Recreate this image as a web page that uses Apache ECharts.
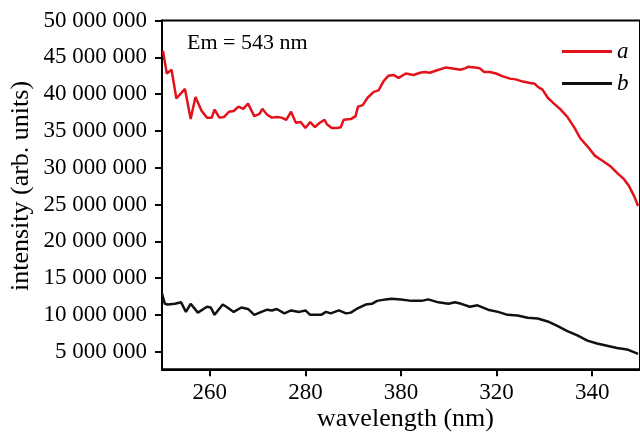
<!DOCTYPE html>
<html>
<head>
<meta charset="utf-8">
<script src="https://cdn.jsdelivr.net/npm/echarts@6/dist/echarts.min.js"></script>
<style>html,body{margin:0;padding:0;background:#fff}#chart{width:640px;height:432px}</style>
</head>
<body>
<div id="chart"></div>
<script>
// Curve a (red)
var aWavelength = [250.2,251,252,253,254.8,256,257,258.3,259.4,260.4,261,262,263,264,265,266,267,268,269.3,270.4,271,272,273,274,275,276,277,278,279,280,281,282,283,284,284.5,285.5,286.6,287.4,288,289.5,290.5,291,292,293,294.3,295.3,296.4,297.4,298.4,299.5,301,302.6,304,305,306,307.4,309.3,310.5,312.4,313.4,314,315.5,316.5,317.4,318.6,319.9,321.3,322.8,324,325.5,327,328,328.6,329.6,330.7,332,333.4,334.8,336.3,337.5,339,340.6,342,343.8,345.2,346.7,347.7,348.8,349.6];
var aIntensity = [45900000,42800000,43300000,39400000,40700000,36600000,39600000,37700000,36800000,36800000,37900000,36800000,36900000,37600000,37700000,38300000,38000000,38700000,37000000,37300000,38000000,37200000,36800000,36900000,36800000,36500000,37600000,36100000,36200000,35400000,36200000,35500000,36100000,36500000,35900000,35400000,35400000,35500000,36500000,36600000,37000000,38300000,38500000,39500000,40300000,40500000,41800000,42500000,42600000,42200000,42800000,42600000,42900000,43000000,42900000,43200000,43600000,43500000,43300000,43500000,43700000,43600000,43500000,43000000,43000000,42800000,42400000,42100000,42000000,41700000,41500000,41400000,41000000,40600000,39500000,38700000,37900000,36900000,35400000,34000000,32900000,31600000,31000000,30200000,29300000,28400000,27500000,26100000,24800000];
// Curve b (black)
var bWavelength = [250,250.6,251.2,252.7,254,255,256,257.5,259.4,260.2,261,262.7,263.7,265,266.6,268,269.3,270.8,272,273,274,275.6,277,278.7,280,281,283.3,284.3,285.3,287,288.5,289.5,290.7,292.6,293.9,295,296.8,298,300,302.2,304.3,305.7,307.8,309.9,311.3,312.6,314.4,316,318.2,320.3,322.3,324.4,326.5,328.6,330.7,332.7,334.8,336.9,339,341,343.1,345.2,347.3,349.6];
var bIntensity = [12900000,11500000,11400000,11500000,11700000,10400000,11500000,10300000,11100000,11000000,10000000,11400000,11000000,10400000,11000000,10800000,10000000,10400000,10700000,10600000,10800000,10200000,10600000,10400000,10600000,10000000,10000000,10400000,10200000,10600000,10200000,10300000,10800000,11400000,11500000,11900000,12100000,12200000,12100000,11900000,11900000,12100000,11700000,11500000,11700000,11500000,11100000,11300000,10700000,10400000,10000000,9900000,9600000,9500000,9100000,8500000,7800000,7200000,6500000,6100000,5800000,5500000,5300000,4700000];
// Axis ticks
var xTickValues = [260,280,300,320,340];
var xTickLabels = ['260','280','380','320','340'];
var yTickValues = [5000000,10000000,15000000,20000000,25000000,30000000,35000000,40000000,45000000,50000000];
var seriesNames = ['a','b'];

function pairs(xs, ys){ return xs.map(function(x,i){ return [x, ys[i]]; }); }
function fmtNum(v){ return String(Math.round(v)).replace(/\B(?=(\d{3})+(?!\d))/g, ' '); }

var FONT = '"Liberation Serif", "DejaVu Serif", serif';
var RED = '#e3121b', BLACK = '#111';
var chart = echarts.init(document.getElementById('chart'), null, {renderer:'canvas'});
chart.setOption({
  animation:false,
  backgroundColor:'#fff',
  grid:{left:162, top:20.5, right:-3, bottom:62.7, show:true, borderColor:'#000', borderWidth:2, containLabel:false},
  xAxis:{
    type:'value', min:250, max:350,
    axisLine:{show:true, lineStyle:{color:'#000', width:2}},
    axisTick:{show:true, customValues:xTickValues, length:7, inside:false, lineStyle:{color:'#000', width:2}},
    axisLabel:{customValues:xTickValues, margin:12, color:'#000', fontFamily:FONT, fontSize:23,
      formatter:function(v){ var i = xTickValues.indexOf(v); return i>=0 ? xTickLabels[i] : ''; }},
    splitLine:{show:false}
  },
  yAxis:{
    type:'value', min:2600000, max:50000000,
    axisLine:{show:true, lineStyle:{color:'#000', width:2}},
    axisTick:{show:true, customValues:yTickValues, length:7, inside:false, lineStyle:{color:'#000', width:2}},
    axisLabel:{customValues:yTickValues, margin:15, color:'#000', fontFamily:FONT, fontSize:23, formatter:fmtNum},
    splitLine:{show:false}
  },
  legend:{
    orient:'vertical', left:557, top:35, itemWidth:50, itemHeight:3, itemGap:9,
    icon:'rect',
    data:seriesNames,
    textStyle:{fontFamily:FONT, fontSize:23, fontStyle:'italic', color:'#000', lineHeight:20}
  },
  series:[
    {name:seriesNames[0], type:'line', data:pairs(aWavelength,aIntensity), symbol:'none', smooth:false,
     lineStyle:{color:RED, width:2.5}, itemStyle:{color:RED}},
    {name:seriesNames[1], type:'line', data:pairs(bWavelength,bIntensity), symbol:'none', smooth:false,
     lineStyle:{color:BLACK, width:2.5}, itemStyle:{color:BLACK}}
  ],
  graphic:[
    {type:'text', left:187, top:32, style:{text:'Em = 543 nm', font:'22px ' + FONT, fill:'#000'}},
    {type:'text', x:405.5, y:419, style:{text:'wavelength (nm)', font:'26px ' + FONT, fill:'#000', align:'center', verticalAlign:'middle'}},
    {type:'text', x:21, y:186, rotation:Math.PI/2, style:{text:'intensity (arb. units)', font:'26px ' + FONT, fill:'#000', align:'center', verticalAlign:'middle'}}
  ]
});
</script>
</body>
</html>
